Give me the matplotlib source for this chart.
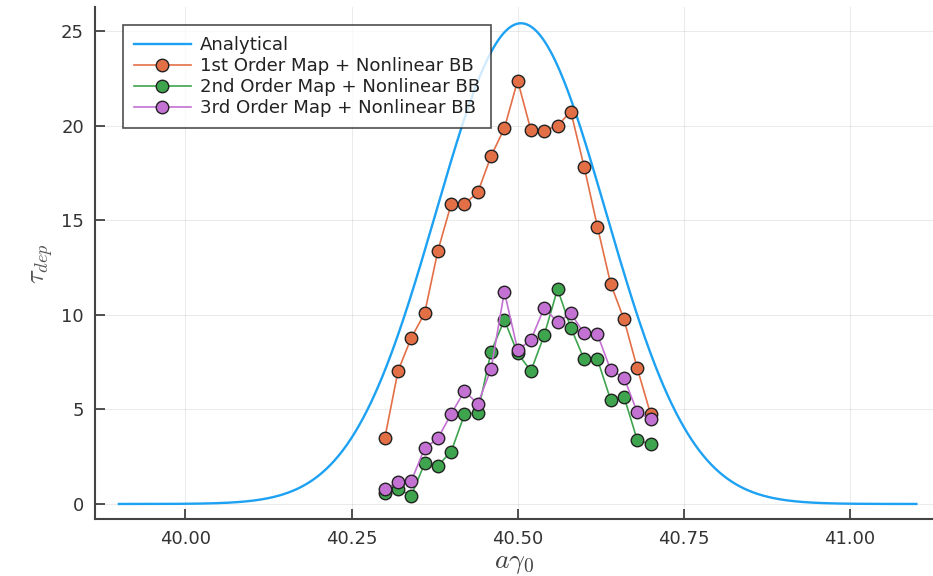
import numpy as np
import matplotlib
matplotlib.use("Agg")
import matplotlib.pyplot as plt

plt.rcParams["mathtext.fontset"] = "cm"

# ---- data ----
x_points = [40.30, 40.32, 40.34, 40.36, 40.38, 40.40, 40.42, 40.44, 40.46, 40.48, 40.50,
            40.52, 40.54, 40.56, 40.58, 40.60, 40.62, 40.64, 40.66, 40.68, 40.70]
first_order = [3.47, 7.03, 8.79, 10.08, 13.39, 15.86, 15.86, 16.47, 18.39, 19.86, 22.38,
               19.75, 19.73, 20.00, 20.74, 17.83, 14.66, 11.63, 9.76, 7.17, 4.76]
second_order = [0.56, 0.79, 0.44, 2.15, 2.03, 2.77, 4.74, 4.83, 8.05, 9.73, 7.96,
                7.03, 8.93, 11.36, 9.32, 7.65, 7.65, 5.50, 5.67, 3.38, 3.17]
third_order = [0.77, 1.15, 1.22, 2.94, 3.47, 4.76, 5.97, 5.29, 7.14, 11.22, 8.14,
               8.67, 10.38, 9.60, 10.08, 9.02, 8.97, 7.08, 6.68, 4.85, 4.49]

# analytical curve parameters
analytical_x_range = (39.9, 41.1)
analytical_peak = 25.41
analytical_center = 40.505
analytical_sigma = 0.128

x_ticks = [40.00, 40.25, 40.50, 40.75, 41.00]
x_tick_labels = ["40.00", "40.25", "40.50", "40.75", "41.00"]
y_ticks = [0, 5, 10, 15, 20, 25]

labels = ["Analytical", "1st Order Map + Nonlinear BB",
          "2nd Order Map + Nonlinear BB", "3rd Order Map + Nonlinear BB"]
colors = ["#1DA1F2", "#E36F47", "#3EA44E", "#C371D2"]

# ---- figure ----
W, H = 933, 576
fig = plt.figure(figsize=(W / 100, H / 100), dpi=100)
left, right, bottom, top = 95, 933, 519.3, 7
ax = fig.add_axes([left / W, 1 - bottom / H, (right - left) / W, (bottom - top) / H])

xa = np.linspace(analytical_x_range[0], analytical_x_range[1], 600)
ya = analytical_peak * np.exp(-(xa - analytical_center) ** 2 / (2 * analytical_sigma ** 2))
ax.plot(xa, ya, color=colors[0], lw=1.7, label=labels[0], zorder=3)

for ys, c, lab in zip([first_order, second_order, third_order], colors[1:], labels[1:]):
    ax.plot(x_points, ys, color=c, lw=1.2, marker="o", ms=9, mfc=c, mec="#222222",
            mew=1.0, label=lab, zorder=4)

ax.set_xlim(39.864, 40 + (933 - 186) / 664)
ax.set_ylim(-0.81, 26.27)
ax.set_xticks(x_ticks)
ax.set_xticklabels(x_tick_labels)
ax.set_yticks(y_ticks)

ax.grid(True, color="#000000", alpha=0.08, lw=0.8)
ax.set_axisbelow(True)
for s in ["top", "right"]:
    ax.spines[s].set_visible(False)
for s in ["left", "bottom"]:
    ax.spines[s].set_color("#444444")
    ax.spines[s].set_linewidth(1.5)
ax.tick_params(direction="in", length=7, width=1.2, color="#333333",
               labelsize=13, labelcolor="#333333", pad=8)

ax.set_xlabel(r"$a\gamma_0$", fontsize=20, color="#444444", labelpad=0)
ax.set_ylabel(r"$\tau_{dep}$", fontsize=19, color="#555555", labelpad=4)

leg = ax.legend(loc="upper left", bbox_to_anchor=((123 - left) / (right - left), 1 - (25 - top) / (bottom - top)),
                fontsize=13.1, frameon=True, fancybox=False, edgecolor="#222222",
                borderpad=0.62, labelspacing=0.16, handlelength=3.1, handletextpad=0.5,
                borderaxespad=0.0)
leg.get_frame().set_linewidth(1.2)
for t in leg.get_texts():
    t.set_color("#222222")

fig.savefig("out.png", dpi=100)
